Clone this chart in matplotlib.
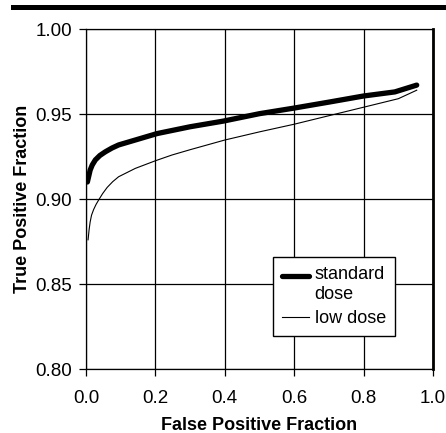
import matplotlib.pyplot as plt
from matplotlib.patches import Rectangle
from matplotlib.legend_handler import HandlerLine2D

plt.rcParams['font.family'] = ['Liberation Sans', 'DejaVu Sans']

# ROC curves
std_fpf = [0.004, 0.008, 0.012, 0.018, 0.027, 0.04, 0.056, 0.075, 0.094, 0.142, 0.205,
           0.30, 0.395, 0.5, 0.6, 0.7, 0.8, 0.89, 0.953]
std_tpf = [0.910, 0.9135, 0.917, 0.920, 0.923, 0.9256, 0.9278, 0.930, 0.9318, 0.9347, 0.9385,
           0.9425, 0.9458, 0.9502, 0.9535, 0.957, 0.9606, 0.963, 0.967]

low_fpf = [0.006, 0.009, 0.012, 0.016, 0.022, 0.029, 0.037, 0.048, 0.061, 0.077, 0.094,
           0.142, 0.2, 0.248, 0.3, 0.4, 0.5, 0.6, 0.7, 0.8, 0.9, 0.953]
low_tpf = [0.876, 0.882, 0.8865, 0.8905, 0.8938, 0.8968, 0.8996, 0.9032, 0.9068, 0.9102, 0.9131,
           0.918, 0.9225, 0.9259, 0.929, 0.9347, 0.9395, 0.944, 0.949, 0.954, 0.959, 0.964]

xticks = [0.0, 0.2, 0.4, 0.6, 0.8, 1.0]
xticklabels = ['0.0', '0.2', '0.4', '0.6', '0.8', '1.0']
yticks = [0.80, 0.85, 0.90, 0.95, 1.00]


class RaisedLine(HandlerLine2D):
    # puts the legend line level with the first line of a two-line label
    def create_artists(self, legend, orig_handle, xdescent, ydescent, width, height, fontsize, trans):
        return super().create_artists(legend, orig_handle, xdescent, ydescent - 13,
                                      width, height, fontsize, trans)


fig = plt.figure(figsize=(4.46, 4.33), dpi=100)
ax = fig.add_axes([0.1928, 0.1478, 0.7781, 0.7852])

l_std, = ax.plot(std_fpf, std_tpf, color='black', lw=3.8, solid_capstyle='round',
                 label='standard\ndose', zorder=3)
l_low, = ax.plot(low_fpf, low_tpf, color='black', lw=0.8, label='low dose', zorder=3)

ax.set_xlim(0, 1)
ax.set_ylim(0.80, 1.00)
ax.set_xticks(xticks)
ax.set_xticklabels(xticklabels)
ax.set_yticks(yticks)
ax.set_yticklabels(['%.2f' % v for v in yticks])
ax.grid(True, color='black', lw=0.9)
ax.tick_params(direction='out', length=5, width=0.9, labelsize=13.5, pad=5)
ax.tick_params(axis='x', pad=10)
for s in ax.spines.values():
    s.set_linewidth(0.9)
ax.spines['right'].set_linewidth(2)

ax.set_xlabel('False Positive Fraction', fontsize=13, fontweight='bold', labelpad=7)
ax.set_ylabel('True Positive Fraction', fontsize=13, fontweight='bold', labelpad=3)

leg = ax.legend(loc='upper left', bbox_to_anchor=(0.539, 0.329), fontsize=13,
                frameon=True, fancybox=False, handlelength=1.5, handletextpad=0.3,
                labelspacing=0.4, borderpad=0.5, borderaxespad=0,
                handler_map={l_std: RaisedLine()})
leg.get_frame().set_edgecolor('black')
leg.get_frame().set_linewidth(1)
leg.get_frame().set_alpha(1)

# heavy rule across the top
fig.add_artist(Rectangle((11 / 446, 423 / 433), 1, 5 / 433, transform=fig.transFigure,
                         color='black', lw=0))

fig.savefig('out.png', dpi=100)
